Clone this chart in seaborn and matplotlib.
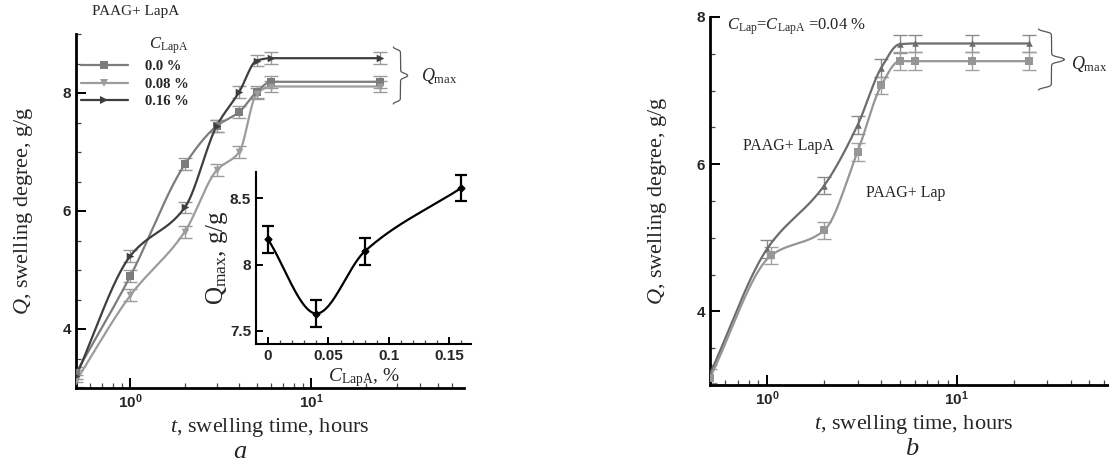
import numpy as np
import pandas as pd
import matplotlib
matplotlib.use('Agg')
import matplotlib.pyplot as plt
import seaborn as sns
from matplotlib.lines import Line2D

# panel a: swelling kinetics, PAAG + LapA
t_a = [0.5, 1, 2, 3, 4, 5, 6, 24]
q_00 = [3.25, 4.90, 6.79, 7.44, 7.68, 8.02, 8.19, 8.19]
q_08 = [3.12, 4.57, 5.65, 6.69, 7.00, 7.99, 8.11, 8.11]
q_16 = [3.20, 5.24, 6.06, 7.44, 8.02, 8.55, 8.59, 8.59]
err_a = 0.1
labels_a = ['0.0 %', '0.08 %', '0.16 %']

# inset: Qmax vs C_LapA
c_lapa = [0, 0.04, 0.08, 0.16]
q_max = [8.19, 7.63, 8.10, 8.58]
q_max_err = [0.1, 0.1, 0.1, 0.1]

# panel b: Lap vs LapA at 0.04 %
t_lapa = [0.5, 1, 2, 3, 4, 5, 6, 12, 24]
q_lapa = [3.15, 4.85, 5.71, 6.53, 7.31, 7.63, 7.64, 7.64, 7.64]
t_lap = [0.5, 1.05, 2, 3, 4, 5, 6, 12, 24]
q_lap = [3.10, 4.76, 5.10, 6.17, 7.07, 7.40, 7.40, 7.40, 7.40]
err_b = 0.12

sns.set_style('ticks')
plt.rcParams['font.family'] = ['Liberation Serif', 'DejaVu Sans']
plt.rcParams['mathtext.fontset'] = 'custom'
plt.rcParams['mathtext.rm'] = 'Liberation Serif'
plt.rcParams['mathtext.it'] = 'Liberation Serif:italic'
plt.rcParams['mathtext.bf'] = 'Liberation Sans:bold'

W, H = 1109, 462


def pchip(x, y, n=300):
    # monotone cubic through the measured points, only for drawing the curve
    x = np.asarray(x, float)
    y = np.asarray(y, float)
    h = np.diff(x)
    d = np.diff(y) / h
    m = np.zeros_like(y)
    for k in range(1, len(x) - 1):
        if d[k - 1] * d[k] > 0:
            w1 = 2 * h[k] + h[k - 1]
            w2 = h[k] + 2 * h[k - 1]
            m[k] = (w1 + w2) / (w1 / d[k - 1] + w2 / d[k])
    m[0] = d[0]
    m[-1] = d[-1] if d[-1] != 0 else 0
    xs = np.linspace(x[0], x[-1], n)
    idx = np.clip(np.searchsorted(x, xs) - 1, 0, len(x) - 2)
    s = (xs - x[idx]) / h[idx]
    h00 = 2 * s**3 - 3 * s**2 + 1
    h10 = s**3 - 2 * s**2 + s
    h01 = -2 * s**3 + 3 * s**2
    h11 = s**3 - s**2
    ys = h00 * y[idx] + h10 * h[idx] * m[idx] + h01 * y[idx + 1] + h11 * h[idx] * m[idx + 1]
    return xs, ys


def series(ax, t, q, err, color, ecolor, marker, ms, logx=True):
    xx = np.log10(t) if logx else np.asarray(t, float)
    xs, ys = pchip(xx, q)
    if logx:
        xs = 10**xs
    sns.lineplot(x=xs, y=ys, ax=ax, color=color, lw=1.6, sort=False, estimator=None, legend=False, zorder=3)
    ax.errorbar(t, q, yerr=err, fmt='none', ecolor=ecolor, elinewidth=1.0, capsize=5, capthick=1.0, zorder=2)
    sns.scatterplot(x=t, y=q, ax=ax, marker=marker, color=color, s=ms, linewidth=0, zorder=4, legend=False)


def brace(fig, x0, x1, ytop, ybot):
    ymid = (ytop + ybot) / 2
    w = x1 - x0
    s = np.linspace(0, 1, 100)
    sig = lambda z: 1 / (1 + np.exp(-z))
    xh = x0 + w / 2 * (sig(40 * (s - 0.08)) + sig(40 * (s - 0.92)))
    yh1 = ytop + (ymid - ytop) * s
    yh2 = ybot + (ymid - ybot) * s
    xx = np.concatenate([xh, xh[::-1]])
    yy = np.concatenate([yh1, yh2[::-1]])
    fig.add_artist(Line2D(xx / W, 1 - yy / H, transform=fig.transFigure, color='#555555', lw=0.9))


def style_axes(ax, lw=2.0):
    sns.despine(ax=ax)
    for sp in ['left', 'bottom']:
        ax.spines[sp].set_linewidth(lw)
        ax.spines[sp].set_color('black')
    ax.tick_params(which='major', direction='in', length=7, width=1.4, color='black')
    ax.tick_params(which='minor', direction='in', length=3.5, width=0.9, color='#444444')
    ax.patch.set_alpha(0)


tick_font = dict(family='Liberation Sans', weight='bold', size=11)

fig = plt.figure(figsize=(W / 100, H / 100), dpi=100)

# ---------- panel a ----------
ax = fig.add_axes([76 / W, 1 - 388 / H, (464 - 76) / W, (388 - 34) / H])
ax.set_xscale('log')
cols_a = ['#7c7c7c', '#9c9c9c', '#3e3e3e']
marks_a = ['s', 'v', '>']
for q, c, mk in zip([q_00, q_08, q_16], cols_a, marks_a):
    series(ax, t_a, q, err_a, c, '#9a9a9a', mk, 30)
ax.set_xlim(0.5, 70)
ax.set_ylim(3, 9)
style_axes(ax)
ax.set_xticks([1, 10], [r'$\mathbf{10^{0}}$', r'$\mathbf{10^{1}}$'], **tick_font)
ax.set_xticks([k * 10.0**e for e in (-1, 0, 1) for k in range(2, 10) if 0.5 < k * 10.0**e < 70], minor=True)
ax.set_xticklabels([], minor=True)
ax.set_yticks([4, 6, 8], ['4', '6', '8'], **tick_font)
ax.set_yticks(np.arange(3, 9.01, 0.5), minor=True)
ax.set_xlabel(r'$t$, swelling time, hours', fontsize=16, labelpad=3)
ax.set_ylabel(r'$Q$, swelling degree, g/g', fontsize=16, labelpad=20)

handles = [Line2D([0], [0], color=c, lw=1.6, marker=mk, markersize=6, markeredgewidth=0)
           for c, mk in zip(cols_a, marks_a)]
leg = ax.legend(handles, labels_a, loc='upper left', bbox_to_anchor=(0.005, 1.005), frameon=False,
                title=r'$C_{\mathrm{LapA}}$', alignment='right', handlelength=3.2, handletextpad=1.2,
                labelspacing=0.3, borderaxespad=0.1, borderpad=0.1,
                prop=dict(family='Liberation Serif', weight='bold', size=10.5), title_fontsize=12)
fig.text(92 / W, 1 - 12 / H, 'PAAG+ LapA', fontsize=11, ha='left', va='center')
brace(fig, 393, 408, 47, 104)
fig.text(421 / W, 1 - 76 / H, r'$Q_{\mathrm{max}}$', fontsize=13, ha='left', va='center')
fig.text(240 / W, 1 - 452 / H, r'$a$', fontsize=19, ha='center', va='center')

# ---------- inset ----------
axi = fig.add_axes([256 / W, 1 - 344 / H, (471 - 256) / W, (344 - 172) / H])
xs, ys = pchip(c_lapa, q_max)
sns.lineplot(x=xs, y=ys, ax=axi, color='black', lw=1.6, sort=False, estimator=None, legend=False)
axi.errorbar(c_lapa, q_max, yerr=q_max_err, fmt='D', color='black', markersize=3.5,
             elinewidth=1.6, capsize=4, capthick=1.6, zorder=4)
axi.set_xlim(-0.01, 0.168)
axi.set_ylim(7.4, 8.7)
style_axes(axi, lw=1.5)
axi.tick_params(which='major', length=5)
axi.tick_params(which='minor', length=3)
axi.set_xticks([0, 0.05, 0.1, 0.15], ['0', '0.05', '0.1', '0.15'], **tick_font)
axi.set_xticks(np.arange(-0.01, 0.1681, 0.01), minor=True)
axi.set_yticks([7.5, 8, 8.5], ['7.5', '8', '8.5'], **tick_font)
axi.set_xlabel(r'$C_{\mathrm{LapA}}$, %', fontsize=14, labelpad=2)
axi.set_ylabel(r'$\mathrm{Q}_{\mathrm{max}}$, g/g', fontsize=18, labelpad=0)

# ---------- panel b ----------
bx = fig.add_axes([710 / W, 1 - 385 / H, (1117 - 710) / W, (385 - 17) / H])
bx.set_xscale('log')
series(bx, t_lapa, q_lapa, err_b, '#6c6c6c', '#8a8a8a', '^', 22)
series(bx, t_lap, q_lap, err_b, '#969696', '#a0a0a0', 's', 30)
bx.set_xlim(0.5, 70)
bx.set_ylim(3, 8)
style_axes(bx)
bx.set_xticks([1, 10], [r'$\mathbf{10^{0}}$', r'$\mathbf{10^{1}}$'], **tick_font)
bx.set_xticks([k * 10.0**e for e in (-1, 0, 1) for k in range(2, 10) if 0.5 < k * 10.0**e < 70], minor=True)
bx.set_xticklabels([], minor=True)
bx.set_yticks([4, 6, 8], ['4', '6', '8'], **tick_font)
bx.set_yticks(np.arange(3, 8.01, 0.5), minor=True)
bx.set_xlabel(r'$t$, swelling time, hours', fontsize=16, labelpad=3)
bx.set_ylabel(r'$Q$, swelling degree, g/g', fontsize=16, labelpad=20)
fig.text(727 / W, 1 - 27 / H, r'$C_{\mathrm{Lap}}$=$C_{\mathrm{LapA}}$ =0.04 %', fontsize=12, ha='left', va='center')
fig.text(743 / W, 1 - 146 / H, 'PAAG+ LapA', fontsize=11.5, ha='left', va='center')
fig.text(866 / W, 1 - 193 / H, 'PAAG+ Lap', fontsize=11.5, ha='left', va='center')
brace(fig, 1038, 1065, 29, 90)
fig.text(1071 / W, 1 - 64 / H, r'$Q_{\mathrm{max}}$', fontsize=13, ha='left', va='center')
fig.text(912 / W, 1 - 449 / H, r'$b$', fontsize=19, ha='center', va='center')

fig.savefig('out.png', dpi=100)
